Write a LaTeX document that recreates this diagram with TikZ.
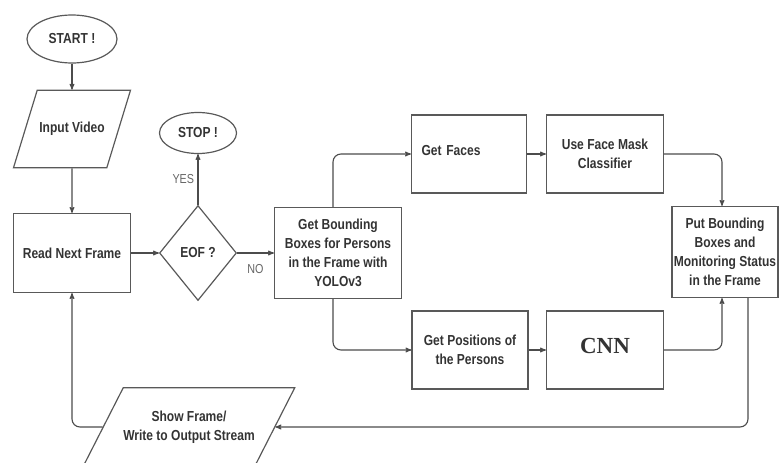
\documentclass[tikz,border=0pt]{standalone}
\usepackage{fontspec}
\setmainfont{Liberation Sans}[FakeStretch=0.83]
\newfontfamily\cnnfont{Liberation Serif}
\usetikzlibrary{shapes.geometric, arrows}

\begin{document}
\begin{tikzpicture}[x=1pt,y=-1pt,>=stealth',
    every node/.style={font=\bfseries\fontsize{14.5}{19}\selectfont, text=black!80},
    boxline/.style={draw=black!65, line width=1.2pt},
    term/.style={ellipse, boxline, inner sep=0pt},
    io/.style={trapezium, trapezium stretches body=true, boxline, inner xsep=0pt, align=center},
    proc/.style={rectangle, boxline, inner sep=0pt, minimum height=78pt, align=center},
    decision/.style={diamond, boxline, inner sep=0pt, minimum width=77pt, minimum height=95pt},
    conn/.style={draw=black!70, line width=1.1pt, ->, rounded corners=8pt},
    lbl/.style={font=\fontsize{13}{15}\selectfont, text=black!60}]
    \clip (0,0) rectangle (779,463);
    \node[term, minimum width=90pt, minimum height=48pt]  (start) at (72,39)                          {START !};
    \node[io, trapezium left angle=73, trapezium right angle=107, minimum width=117pt, inner ysep=32pt]
                                                          (input) [below of=start, node distance=90pt] {Input Video};
    \node[proc, minimum width=117pt, minimum height=79pt] (read)  [below of=input, node distance=124pt] {Read Next Frame};
    \node[decision]                                       (eof)   [right of=read, node distance=126pt]  {EOF ?};
    \node[term, minimum width=77pt, minimum height=41pt]  (stop)  [above of=eof, node distance=120pt]   {STOP !};
    \node[proc, minimum width=127pt, minimum height=91pt] (bbox)  [right of=eof, node distance=140pt]   {Get Bounding\\Boxes for Persons\\in the Frame with\\YOLOv3};
    \node[proc, minimum width=115pt, text width=95pt, align=left]
                                                          (faces) at (469,154)                          {\raisebox{7pt}{Get Faces}};
    \node[proc, minimum width=117pt]                      (mask)  [right of=faces, node distance=136pt] {Use Face Mask\\Classifier};
    \node[proc, minimum width=116pt]                      (pos)   at (470,350)                          {Get Positions of\\the Persons};
    \node[proc, minimum width=117pt]                      (cnn)   [right of=pos, node distance=135pt]   {\raisebox{8pt}{\cnnfont\bfseries\fontsize{23}{23}\selectfont CNN}};
    \node[proc, minimum width=106pt, minimum height=91pt] (put)   at (725,252)                          {Put Bounding\\Boxes and\\Monitoring Status\\in the Frame};
    \node[io, trapezium left angle=63, trapezium right angle=117, minimum width=208pt, inner ysep=23pt]
                                                          (show)  at (189,427)                          {Show Frame/\\Write to Output Stream};
    \draw[conn] (start) -- (input);
    \draw[conn] (input) -- (read);
    \draw[conn] (read)  -- (eof);
    \draw[conn] (eof)   -- node[lbl, left]      {YES} (stop);
    \draw[conn] (eof)   -- node[lbl, below=8pt] {NO}  (bbox);
    \draw[conn] ([xshift=-5pt]bbox.north) |- (faces);
    \draw[conn] (faces) -- (mask);
    \draw[conn] (mask)  -| ([xshift=-3pt]put.north);
    \draw[conn] ([xshift=-5pt]bbox.south) |- (pos);
    \draw[conn] (pos)   -- (cnn);
    \draw[conn] (cnn)   -| ([xshift=-3pt]put.south);
    \draw[conn] ([xshift=23pt]put.south) |- (show);
    \draw[conn] (show)  -| (read);
\end{tikzpicture}
\end{document}
